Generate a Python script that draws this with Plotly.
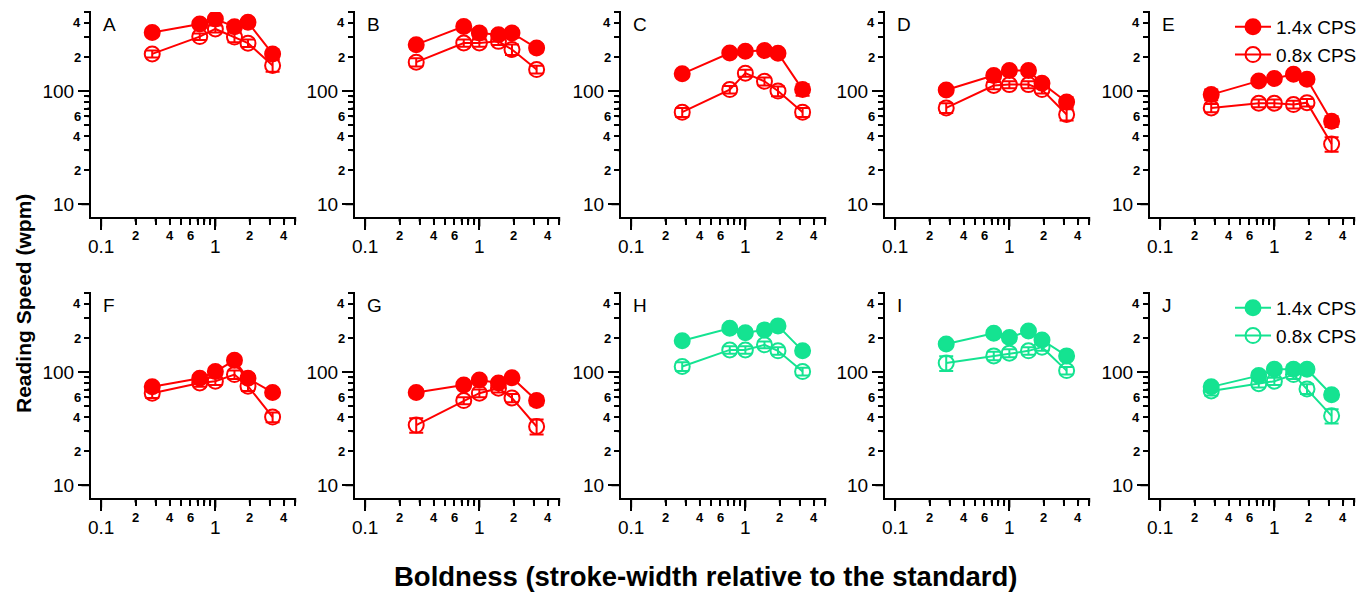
import math
import plotly.graph_objects as go

# ---- data -----------------------------------------------------------------
boldness = [0.28, 0.73, 1.0, 1.47, 1.93, 3.17]
panels = ["A", "B", "C", "D", "E", "F", "G", "H", "I", "J"]

fast_A = [330, 392, 433, 371, 405, 213]
slow_A = [213, 303, 354, 300, 265, 168]
fast_B = [257, 373, 326, 315, 326, 240]
slow_B = [180, 266, 266, 275, 233, 155]
fast_C = [142, 217, 225, 228, 216, 103]
slow_C = [65, 103, 144, 122, 100, 65]
fast_D = [102, 137, 152, 152, 117, 80]
slow_D = [71, 112, 114, 114, 103, 62]
fast_E = [93, 123, 129, 141, 127, 54]
slow_E = [71, 78, 78, 76, 79, 34]
fast_F = [74, 88, 101, 127, 88, 66]
slow_F = [65, 80, 83, 95, 75, 40]
fast_G = [66, 77, 85, 80, 89, 56]
slow_G = [34, 56, 65, 72, 59, 33]
fast_H = [189, 244, 223, 236, 256, 154]
slow_H = [112, 157, 157, 174, 154, 101]
fast_I = [177, 220, 202, 231, 192, 139]
slow_I = [120, 139, 147, 154, 166, 103]
fast_J = [74, 93, 106, 106, 106, 63]
slow_J = [68, 79, 83, 95, 71, 41]

# standard errors (wpm)
fast_err_A = [25, 30, 30, 35, 30, 20]
slow_err_A = [15, 20, 25, 30, 20, 20]
fast_err_B = [20, 30, 30, 25, 30, 20]
slow_err_B = [15, 20, 20, 20, 25, 12]
fast_err_C = [10, 15, 15, 15, 15, 12]
slow_err_C = [6, 8, 10, 10, 10, 6]
fast_err_D = [8, 10, 10, 10, 10, 8]
slow_err_D = [7, 8, 8, 8, 8, 7]
fast_err_E = [10, 8, 8, 8, 10, 6]
slow_err_E = [6, 6, 6, 6, 6, 5]
fast_err_F = [6, 6, 8, 10, 8, 5]
slow_err_F = [6, 6, 6, 8, 7, 4]
fast_err_G = [5, 5, 6, 6, 6, 5]
slow_err_G = [5, 4, 5, 6, 5, 5]
fast_err_H = [12, 15, 15, 15, 15, 12]
slow_err_H = [10, 12, 12, 12, 12, 8]
fast_err_I = [12, 15, 15, 15, 15, 10]
slow_err_I = [18, 12, 12, 12, 12, 8]
fast_err_J = [6, 8, 8, 10, 8, 5]
slow_err_J = [6, 6, 6, 8, 7, 6]

fast_series = [fast_A, fast_B, fast_C, fast_D, fast_E, fast_F, fast_G, fast_H, fast_I, fast_J]
slow_series = [slow_A, slow_B, slow_C, slow_D, slow_E, slow_F, slow_G, slow_H, slow_I, slow_J]
fast_errs = [fast_err_A, fast_err_B, fast_err_C, fast_err_D, fast_err_E,
             fast_err_F, fast_err_G, fast_err_H, fast_err_I, fast_err_J]
slow_errs = [slow_err_A, slow_err_B, slow_err_C, slow_err_D, slow_err_E,
             slow_err_F, slow_err_G, slow_err_H, slow_err_I, slow_err_J]

series_names = ["1.4x CPS", "0.8x CPS"]

x_major_ticks = [0.1, 1]
x_major_labels = ["0.1", "1"]
x_minor_ticks = [0.2, 0.3, 0.4, 0.5, 0.6, 0.7, 0.8, 0.9, 2, 3, 4, 5]
x_minor_label_vals = [0.2, 0.4, 0.6, 2, 4]
x_minor_labels = ["2", "4", "6", "2", "4"]

y_major_ticks = [10, 100]
y_major_labels = ["10", "100"]
y_minor_ticks = [20, 30, 40, 50, 60, 70, 80, 90, 200, 300, 400, 500]
y_minor_label_vals = [20, 40, 60, 200, 400]
y_minor_labels = ["2", "4", "6", "2", "4"]

# ---- styling / geometry ----------------------------------------------------
W, H = 1372, 595
RED = "#FF0000"
GREEN = "#14E391"
INK = "black"
panel_colors = [RED] * 7 + [GREEN] * 3
FONT = "Arial, Liberation Sans, sans-serif"

col_left = [91, 355, 621, 885, 1150]
row_top = [12, 293]
panel_size = 205
x_range = [math.log10(0.0815), math.log10(5.08)]
y_range = [math.log10(7.7), math.log10(500)]
MAJOR_LEN, X_MINOR_LEN, Y_MINOR_LEN = 11, 6, 5

fig = go.Figure()
annotations = []
axes_layout = {}


def tick_mark(xa, ya, value, length, on_x):
    """Short outward stroke at a tick value, hung off the axis line."""
    if on_x:
        return dict(x=math.log10(value), xref=xa, y=0, yref=ya + " domain",
                    ax=0, ay=length, axref="pixel", ayref="pixel",
                    text="", showarrow=True, arrowhead=0, arrowwidth=2,
                    arrowcolor=INK, standoff=0, startstandoff=0)
    return dict(x=0, xref=xa + " domain", y=math.log10(value), yref=ya,
                ax=-length, ay=0, axref="pixel", ayref="pixel",
                text="", showarrow=True, arrowhead=0, arrowwidth=2,
                arrowcolor=INK, standoff=0, startstandoff=0)


for i, letter in enumerate(panels):
    r, c = divmod(i, 5)
    left = col_left[c]
    top = row_top[r]
    bottom = top + panel_size
    sfx = "" if i == 0 else str(i + 1)
    xa, ya = "x" + sfx, "y" + sfx
    color = panel_colors[i]

    legend_id = None
    if letter == "E":
        legend_id = "legend"
    elif letter == "J":
        legend_id = "legend2"

    # slow (open) series first, fast (filled) series drawn on top
    for name, ys, errs, filled in [
        (series_names[1], slow_series[i], slow_errs[i], False),
        (series_names[0], fast_series[i], fast_errs[i], True),
    ]:
        fig.add_trace(go.Scatter(
            x=boldness, y=ys, xaxis=xa, yaxis=ya,
            mode="lines+markers", name=name,
            line=dict(color=color, width=2),
            marker=dict(
                symbol="circle" if filled else "circle-open",
                size=15, color=color,
                line=dict(color=color, width=2),
            ),
            error_y=dict(type="data", array=errs, visible=True,
                         color=color, thickness=2, width=7),
            showlegend=legend_id is not None,
            legend=legend_id if legend_id else "legend",
        ))

    axes_layout["xaxis" + sfx] = dict(
        type="log", range=x_range, domain=[left / W, (left + panel_size) / W],
        anchor=ya, showgrid=False, zeroline=False,
        showline=True, linecolor=INK, linewidth=2,
        ticks="outside", tickcolor=INK, tickwidth=2, ticklen=MAJOR_LEN,
        tickmode="array", tickvals=x_major_ticks, ticktext=x_major_labels,
        tickfont=dict(family=FONT, size=19, color=INK),
        minor=dict(tickmode="array", tickvals=x_minor_ticks, ticks="outside",
                   ticklen=X_MINOR_LEN, tickwidth=2, tickcolor=INK, showgrid=False),
    )
    axes_layout["yaxis" + sfx] = dict(
        type="log", range=y_range, domain=[1 - bottom / H, 1 - top / H],
        anchor=xa, showgrid=False, zeroline=False,
        showline=True, linecolor=INK, linewidth=2,
        ticks="outside", tickcolor=INK, tickwidth=2, ticklen=MAJOR_LEN,
        tickmode="array", tickvals=y_major_ticks, ticktext=y_major_labels,
        tickfont=dict(family=FONT, size=19, color=INK),
        minor=dict(tickmode="array", tickvals=y_minor_ticks, ticks="outside",
                   ticklen=Y_MINOR_LEN, tickwidth=2, tickcolor=INK, showgrid=False),
    )

    # tick strokes
    for v in x_major_ticks:
        annotations.append(tick_mark(xa, ya, v, MAJOR_LEN, True))
    for v in x_minor_ticks:
        annotations.append(tick_mark(xa, ya, v, X_MINOR_LEN, True))
    for v in y_major_ticks:
        annotations.append(tick_mark(xa, ya, v, MAJOR_LEN, False))
    for v in y_minor_ticks:
        annotations.append(tick_mark(xa, ya, v, Y_MINOR_LEN, False))

    # intermediate tick labels in a smaller face
    for v, t in zip(x_minor_label_vals, x_minor_labels):
        annotations.append(dict(
            x=math.log10(v), xref=xa, y=1 - (bottom + 19) / H, yref="paper",
            text="<b>%s</b>" % t, showarrow=False, xanchor="center", yanchor="middle",
            font=dict(family=FONT, size=13, color=INK),
        ))
    for v, t in zip(y_minor_label_vals, y_minor_labels):
        annotations.append(dict(
            x=(left - 8) / W, xref="paper", y=math.log10(v), yref=ya,
            text="<b>%s</b>" % t, showarrow=False, xanchor="right", yanchor="middle",
            font=dict(family=FONT, size=13, color=INK),
        ))

    # panel letter
    annotations.append(dict(
        x=(left + 10) / W, xref="paper", y=1 - (top + 13) / H, yref="paper",
        text=letter, showarrow=False, xanchor="left", yanchor="middle",
        font=dict(family=FONT, size=19, color=INK),
    ))

# axis titles
annotations.append(dict(
    x=705 / W, xref="paper", y=1 - 576 / H, yref="paper",
    text="<b>Boldness (stroke-width relative to the standard)</b>",
    showarrow=False, xanchor="center", yanchor="middle",
    font=dict(family=FONT, size=27.5, color=INK),
))
annotations.append(dict(
    x=23 / W, xref="paper", y=1 - 304 / H, yref="paper",
    text="<b>Reading Speed (wpm)</b>", textangle=-90,
    showarrow=False, xanchor="center", yanchor="middle",
    font=dict(family=FONT, size=21, color=INK),
))

legend_style = dict(
    xanchor="right", yanchor="top", x=1362 / W,
    bgcolor="rgba(0,0,0,0)", borderwidth=0,
    font=dict(family=FONT, size=19, color=INK),
    traceorder="reversed", itemwidth=36, tracegroupgap=0,
)

fig.update_layout(
    template="none",
    width=W, height=H,
    margin=dict(l=0, r=0, t=0, b=0),
    paper_bgcolor="white", plot_bgcolor="white",
    annotations=annotations,
    legend=dict(legend_style, y=1 - 8 / H),
    legend2=dict(legend_style, y=1 - 289 / H),
    **axes_layout,
)

fig.write_html("out.html")
